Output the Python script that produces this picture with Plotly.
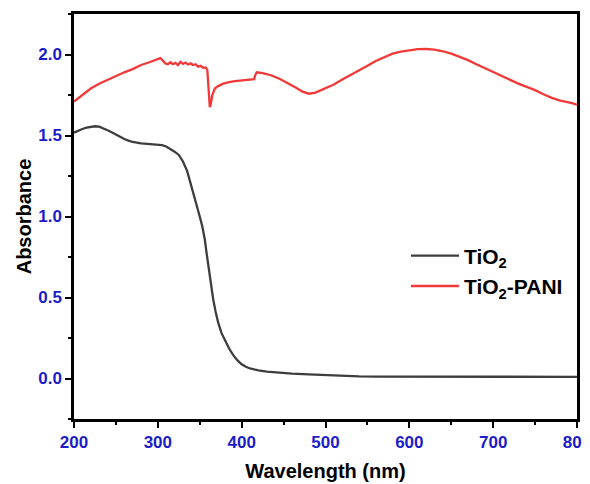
import plotly.graph_objects as go

# TiO2 spectrum
tio2_wl = [200, 205, 210, 215, 220, 225, 230, 235, 240, 245, 250, 255, 260, 265, 270, 280, 290, 300,
           305, 310, 315, 320, 325, 330, 335, 340, 345, 350, 353, 356, 358, 360, 363, 366, 369, 372,
           376, 380, 385, 390, 395, 400, 405, 410, 415, 420, 430, 440, 450, 460, 480, 500, 520, 540,
           560, 600, 650, 700, 750, 800]
tio2_abs = [1.518, 1.53, 1.54, 1.548, 1.554, 1.557, 1.555, 1.545, 1.532, 1.52, 1.505, 1.49, 1.478, 1.468,
            1.46, 1.452, 1.447, 1.443, 1.44, 1.432, 1.418, 1.40, 1.38, 1.34, 1.28, 1.19, 1.105, 1.00,
            0.94, 0.86, 0.78, 0.70, 0.58, 0.49, 0.41, 0.345, 0.28, 0.236, 0.185, 0.144, 0.112, 0.088,
            0.072, 0.062, 0.055, 0.05, 0.043, 0.038, 0.034, 0.03, 0.025, 0.02, 0.016, 0.013, 0.012,
            0.011, 0.01, 0.01, 0.01, 0.01]

# TiO2-PANI spectrum
pani_wl = [200, 205, 210, 220, 230, 240, 250, 260, 270, 280, 290, 300, 303, 306, 309, 312, 315, 318,
           321, 324, 327, 330, 333, 336, 339, 342, 345, 348, 351, 354, 357, 359, 360, 361, 362, 363,
           365, 368, 372, 378, 385, 392, 400, 408, 415, 416, 418, 425, 435, 445, 455, 465, 472, 480,
           488, 497, 510, 520, 530, 540, 550, 560, 570, 580, 590, 600, 610, 620, 630, 640, 650, 660,
           670, 680, 690, 700, 710, 720, 730, 740, 750, 760, 770, 780, 785, 790, 795, 800]
pani_abs = [1.71, 1.73, 1.755, 1.79, 1.82, 1.845, 1.868, 1.89, 1.91, 1.935, 1.952, 1.97, 1.978, 1.962,
            1.945, 1.94, 1.952, 1.94, 1.948, 1.935, 1.955, 1.942, 1.95, 1.938, 1.945, 1.935, 1.94,
            1.925, 1.93, 1.918, 1.92, 1.905, 1.80, 1.69, 1.675, 1.69, 1.75, 1.79, 1.805, 1.82, 1.83,
            1.835, 1.84, 1.845, 1.848, 1.87, 1.89, 1.885, 1.872, 1.85, 1.825, 1.795, 1.772, 1.758,
            1.765, 1.785, 1.815, 1.845, 1.872, 1.90, 1.93, 1.96, 1.985, 2.005, 2.018, 2.027, 2.033,
            2.034, 2.03, 2.02, 2.005, 1.985, 1.965, 1.94, 1.915, 1.89, 1.866, 1.842, 1.82, 1.80, 1.78,
            1.755, 1.732, 1.715, 1.712, 1.705, 1.698, 1.69]

x_ticks = [200, 300, 400, 500, 600, 700, 800]
y_ticks = [0.0, 0.5, 1.0, 1.5, 2.0]
y_tick_labels = ["0.0", "0.5", "1.0", "1.5", "2.0"]

FONT = "Liberation Sans, Arial, sans-serif"
BLUE = "#1c1cc8"

fig = go.Figure()
fig.add_trace(go.Scatter(x=tio2_wl, y=tio2_abs, mode="lines", name="TiO<sub>2</sub>",
                         line=dict(color="#3d3d3d", width=2.3)))
fig.add_trace(go.Scatter(x=pani_wl, y=pani_abs, mode="lines", name="TiO<sub>2</sub>-PANI",
                         line=dict(color="#f03a3a", width=2.3)))

axis_common = dict(showgrid=False, zeroline=False, showline=True, linecolor="black", linewidth=2.5,
                   mirror=True, ticks="outside", ticklen=6, tickwidth=2, tickcolor="black",
                   automargin=False)

fig.update_xaxes(range=[200, 800], tickvals=x_ticks,
                 tickfont=dict(family=FONT, size=17, color=BLUE, weight="bold"),
                 title=dict(text="Wavelength (nm)", font=dict(family=FONT, size=20, color="black", weight="bold"),
                            standoff=13),
                 minor=dict(dtick=50, ticks="outside", ticklen=3, tickwidth=2, tickcolor="black"),
                 **axis_common)
fig.update_yaxes(range=[-0.25, 2.25], tickvals=y_ticks, ticktext=y_tick_labels,
                 tickfont=dict(family=FONT, size=17, color=BLUE, weight="bold"),
                 title=dict(text="Absorbance", font=dict(family=FONT, size=20, color="black", weight="bold"),
                            standoff=2),
                 minor=dict(dtick=0.25, ticks="outside", ticklen=3, tickwidth=2, tickcolor="black"),
                 **axis_common)

fig.update_layout(
    width=590, height=484,
    margin=dict(l=66, r=21, t=6, b=73),
    paper_bgcolor="white", plot_bgcolor="white",
    showlegend=True,
    legend=dict(x=0.66, y=0.453, xanchor="left", yanchor="top", bgcolor="rgba(0,0,0,0)",
                font=dict(family=FONT, size=21, color="black", weight="bold"),
                itemwidth=48, tracegroupgap=0),
)

fig.write_html("out.html")
